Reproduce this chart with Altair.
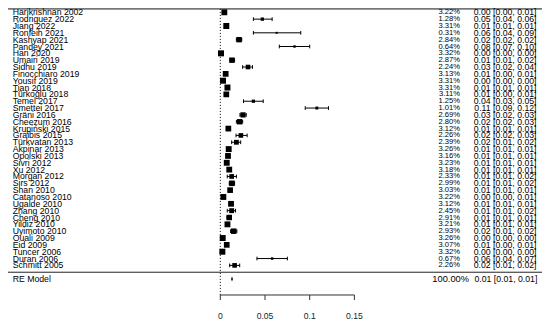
import altair as alt
import pandas as pd

# ---------------- data ----------------
studies = ["Harikrishnan 2002", "Rodriguez 2022", "Jiang 2022", "Ronfeih 2021", "Kashyap 2021",
           "Pandey 2021", "Han 2020", "Umairi 2019", "Sidhu 2019", "Finocchiaro 2019",
           "Yousif 2019", "Tian 2018", "Türkoğlu 2018", "Temel 2017", "Smettei 2017",
           "Gräni 2016", "Cheezum 2016", "Krupiński 2015", "Graibis 2015", "Türkvatan 2013",
           "Akpinar 2013", "Opolski 2013", "Sivri 2012", "Xu 2012", "Morgan 2012",
           "Sirs 2012", "Shan 2010", "Catanoso 2010", "Ugalde 2010", "Zhang 2010",
           "Cheng 2010", "Yildiz 2010", "Uyimoto 2010", "Ouali 2009", "Eid 2009",
           "Tuncer 2006", "Duran 2006", "Schmitt 2005"]
weights = [3.22, 1.28, 3.31, 0.31, 2.84, 0.64, 3.32, 2.87, 2.24, 3.13,
           3.31, 3.31, 3.11, 1.25, 1.01, 2.69, 2.80, 3.12, 2.26, 2.39,
           3.26, 3.16, 3.23, 3.18, 2.33, 2.99, 3.03, 3.22, 3.12, 2.45,
           2.91, 3.21, 2.93, 3.26, 3.07, 3.32, 0.67, 2.26]
est = [0.0045, 0.047, 0.0067, 0.063, 0.021, 0.083, 0.0008, 0.013, 0.031, 0.006,
       0.003, 0.008, 0.0067, 0.037, 0.108, 0.0254, 0.0217, 0.009, 0.023, 0.018,
       0.0094, 0.0086, 0.0072, 0.010, 0.0127, 0.013, 0.011, 0.0034, 0.012, 0.0127,
       0.010, 0.008, 0.015, 0.0027, 0.0072, 0.0023, 0.058, 0.016]
ci_lo = [0.0035, 0.037, 0.0055, 0.037, 0.018, 0.066, 0.0003, 0.011, 0.025, 0.0045,
         0.002, 0.0065, 0.0048, 0.026, 0.095, 0.022, 0.018, 0.007, 0.0176, 0.0127,
         0.0078, 0.0068, 0.0057, 0.0082, 0.0078, 0.010, 0.009, 0.002, 0.010, 0.0078,
         0.0075, 0.0063, 0.0115, 0.0017, 0.005, 0.0015, 0.041, 0.0105]
ci_hi = [0.0055, 0.058, 0.008, 0.090, 0.024, 0.100, 0.0015, 0.016, 0.036, 0.0075,
         0.004, 0.0095, 0.0085, 0.048, 0.121, 0.029, 0.025, 0.011, 0.030, 0.0228,
         0.011, 0.0105, 0.0088, 0.012, 0.018, 0.016, 0.013, 0.005, 0.014, 0.017,
         0.0125, 0.0097, 0.0185, 0.0037, 0.009, 0.0032, 0.075, 0.0217]
weight_text = ["3.22%", "1.28%", "3.31%", "0.31%", "2.84%", "0.64%", "3.32%", "2.87%", "2.24%", "3.13%",
               "3.31%", "3.31%", "3.11%", "1.25%", "1.01%", "2.69%", "2.80%", "3.12%", "2.26%", "2.39%",
               "3.26%", "3.16%", "3.23%", "3.18%", "2.33%", "2.99%", "3.03%", "3.22%", "3.12%", "2.45%",
               "2.91%", "3.21%", "2.93%", "3.26%", "3.07%", "3.32%", "0.67%", "2.26%"]
est_text = ["0.00 [0.00, 0.01]", "0.05 [0.04, 0.06]", "0.01 [0.01, 0.01]", "0.06 [0.04, 0.09]",
            "0.02 [0.02, 0.02]", "0.08 [0.07, 0.10]", "0.00 [0.00, 0.00]", "0.01 [0.01, 0.02]",
            "0.03 [0.02, 0.04]", "0.01 [0.00, 0.01]", "0.00 [0.00, 0.00]", "0.01 [0.01, 0.01]",
            "0.01 [0.00, 0.01]", "0.04 [0.03, 0.05]", "0.11 [0.09, 0.12]", "0.03 [0.02, 0.03]",
            "0.02 [0.02, 0.03]", "0.01 [0.01, 0.01]", "0.02 [0.02, 0.03]", "0.02 [0.01, 0.02]",
            "0.01 [0.01, 0.01]", "0.01 [0.01, 0.01]", "0.01 [0.01, 0.01]", "0.01 [0.01, 0.01]",
            "0.01 [0.01, 0.02]", "0.01 [0.01, 0.02]", "0.01 [0.01, 0.01]", "0.00 [0.00, 0.01]",
            "0.01 [0.01, 0.01]", "0.01 [0.01, 0.02]", "0.01 [0.01, 0.01]", "0.01 [0.01, 0.01]",
            "0.02 [0.01, 0.02]", "0.00 [0.00, 0.00]", "0.01 [0.00, 0.01]", "0.00 [0.00, 0.00]",
            "0.06 [0.04, 0.07]", "0.02 [0.01, 0.02]"]
re_label = ["RE Model"]
re_weight = ["100.00%"]
re_est = [0.0131]
re_lo = [0.0113]
re_hi = [0.0149]
re_text = ["0.01 [0.01, 0.01]"]
ticks = [0, 0.05, 0.1, 0.15]
tick_labels = ["0", "0.05", "0.1", "0.15"]

# ---------------- layout ----------------
W, H = 534, 314
ROW0_PX, ROW_PX = 4.3, 6.84
X_ZERO_PX, X_PX_PER_UNIT = 212.3, 894.0
FONT = "Liberation Sans"
FS = 8.7

n = len(studies)
SEP_ROW = n           # separator line
RE_ROW = n + 1
TOP_ROW = -0.5
AXIS_ROW = 41.33
TICK_END_ROW = 42.06
LABEL_ROW = 44.42
CAP = 0.27

xdom = [-X_ZERO_PX / X_PX_PER_UNIT, (W - X_ZERO_PX) / X_PX_PER_UNIT]
ydom = [-ROW0_PX / ROW_PX, -ROW0_PX / ROW_PX + H / ROW_PX]
xs = alt.Scale(domain=xdom, nice=False, zero=False)
ys = alt.Scale(domain=ydom, nice=False, zero=False, reverse=True)

df = pd.DataFrame({"study": studies, "w": weights, "est": est, "lo": ci_lo, "hi": ci_hi,
                   "wtxt": weight_text, "etxt": est_text, "row": list(range(n))})
re_df = pd.DataFrame({"label": re_label, "wtxt": re_weight, "est": re_est, "lo": re_lo,
                      "hi": re_hi, "etxt": re_text, "row": [RE_ROW]})
tick_df = pd.DataFrame({"t": ticks, "lab": tick_labels})
axis_df = pd.DataFrame({"a": [ticks[0]], "b": [ticks[-1]]})
one = pd.DataFrame({"k": [0]})

X = lambda f: alt.X(f, scale=xs, axis=None)
Y = lambda f: alt.Y(f, scale=ys, axis=None)

base = alt.Chart(df)

ci = base.mark_rule(color="black", strokeWidth=1).encode(x=X("lo:Q"), x2="hi:Q", y=Y("row:Q"))
caps_lo = base.transform_calculate(r1=f"datum.row - {CAP}", r2=f"datum.row + {CAP}").mark_rule(
    color="black", strokeWidth=1).encode(x=X("lo:Q"), y=Y("r1:Q"), y2="r2:Q")
caps_hi = base.transform_calculate(r1=f"datum.row - {CAP}", r2=f"datum.row + {CAP}").mark_rule(
    color="black", strokeWidth=1).encode(x=X("hi:Q"), y=Y("r1:Q"), y2="r2:Q")
squares = base.mark_square(filled=True, color="black", opacity=1).encode(
    x=X("est:Q"), y=Y("row:Q"),
    size=alt.Size("w:Q", scale=alt.Scale(type="pow", exponent=1.5, domain=[0.31, 3.32], range=[4, 36]),
                  legend=None))

lab = base.mark_text(align="left", baseline="middle", font=FONT, fontSize=FS, color="black").encode(
    x=alt.value(4.7), y=Y("row:Q"), text="study:N")
wt = base.mark_text(align="right", baseline="middle", font=FONT, fontSize=7.6, color="black").encode(
    x=alt.value(452), y=Y("row:Q"), text="wtxt:N")
et = base.mark_text(align="right", baseline="middle", font=FONT, fontSize=FS, color="black").encode(
    x=alt.value(528.5), y=Y("row:Q"), text="etxt:N")

reb = alt.Chart(re_df)
re_lab = reb.mark_text(align="left", baseline="middle", font=FONT, fontSize=FS, color="black").encode(
    x=alt.value(4.7), y=Y("row:Q"), text="label:N")
re_wt = reb.mark_text(align="right", baseline="middle", font=FONT, fontSize=9.3, color="black").encode(
    x=alt.value(461), y=Y("row:Q"), text="wtxt:N")
re_et = reb.mark_text(align="right", baseline="middle", font=FONT, fontSize=FS, color="black").encode(
    x=alt.value(529.3), y=Y("row:Q"), text="etxt:N")
re_dia = reb.mark_point(shape="M0,-1L0.36,0L0,1L-0.36,0Z", filled=True, color="black", opacity=1,
                        size=26).encode(x=X("est:Q"), y=Y("row:Q"))

oc = alt.Chart(one)
top_line = oc.mark_rule(color="#777777", strokeWidth=1.6).encode(
    x=alt.value(0), x2=alt.value(W), y=alt.Y(datum=TOP_ROW, scale=ys, axis=None))
sep_line = oc.mark_rule(color="#222222", strokeWidth=1).encode(
    x=alt.value(0), x2=alt.value(W), y=alt.Y(datum=SEP_ROW, scale=ys, axis=None))
ref_line = oc.mark_rule(color="black", strokeWidth=1, strokeDash=[1, 2]).encode(
    x=alt.X(datum=0, scale=xs, axis=None),
    y=alt.Y(datum=TOP_ROW, scale=ys, axis=None), y2=alt.Y2(datum=AXIS_ROW))

ax_line = alt.Chart(axis_df).mark_rule(color="#333333", strokeWidth=1).encode(
    x=X("a:Q"), x2="b:Q", y=alt.Y(datum=AXIS_ROW, scale=ys, axis=None))
ax_ticks = alt.Chart(tick_df).mark_rule(color="#333333", strokeWidth=1).encode(
    x=X("t:Q"), y=alt.Y(datum=AXIS_ROW, scale=ys, axis=None), y2=alt.Y2(datum=TICK_END_ROW))
ax_labels = alt.Chart(tick_df).mark_text(align="center", baseline="middle", font=FONT,
                                         fontSize=8.6, color="#222222").encode(
    x=X("t:Q"), y=alt.Y(datum=LABEL_ROW, scale=ys, axis=None), text="lab:N")

chart = alt.layer(
    top_line, sep_line, ref_line, ci, caps_lo, caps_hi, squares,
    lab, wt, et, re_lab, re_wt, re_et, re_dia, ax_line, ax_ticks, ax_labels
).properties(
    width=W, height=H, autosize=alt.AutoSizeParams(type="none"), padding=0
).configure_view(stroke=None)

chart.save("out.html", embed_options={"renderer": "svg", "actions": False})
